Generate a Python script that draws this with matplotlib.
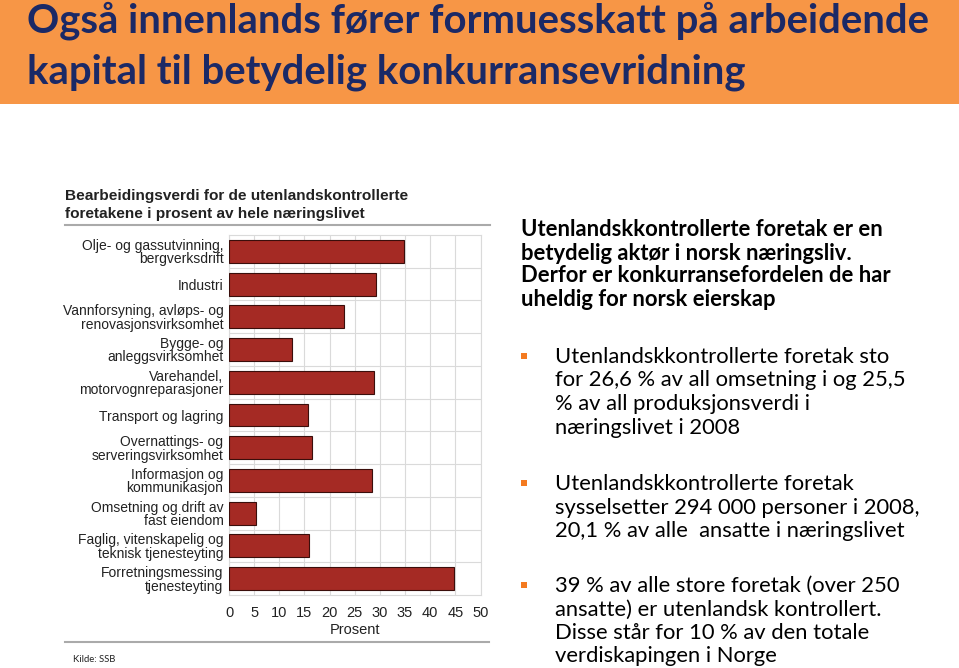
import matplotlib
matplotlib.use("Agg")
import matplotlib.pyplot as plt
from matplotlib.lines import Line2D
from matplotlib.patches import Rectangle

W, H = 959, 668

categories = [
    "Olje- og gassutvinning,\nbergverksdrift",
    "Industri",
    "Vannforsyning, avløps- og\nrenovasjonsvirksomhet",
    "Bygge- og\nanleggsvirksomhet",
    "Varehandel,\nmotorvognreparasjoner",
    "Transport og lagring",
    "Overnattings- og\nserveringsvirksomhet",
    "Informasjon og\nkommunikasjon",
    "Omsetning og drift av\nfast eiendom",
    "Faglig, vitenskapelig og\nteknisk tjenesteyting",
    "Forretningsmessing\ntjenesteyting",
]
values = [34.8, 29.2, 22.8, 12.5, 28.9, 15.8, 16.6, 28.5, 5.4, 16.0, 44.8]
xticks = [0, 5, 10, 15, 20, 25, 30, 35, 40, 45, 50]

title_lines = ["Også innenlands fører formuesskatt på arbeidende",
               "kapital til betydelig konkurransevridning"]
chart_title = ["Bearbeidingsverdi for de utenlandskontrollerte",
               "foretakene i prosent av hele næringslivet"]
heading = ["Utenlandskkontrollerte foretak er en",
           "betydelig aktør i norsk næringsliv.",
           "Derfor er konkurransefordelen de har",
           "uheldig for norsk eierskap"]
bullets = [
    ["Utenlandskkontrollerte foretak sto",
     "for 26,6 % av all omsetning i og 25,5",
     "% av all produksjonsverdi i",
     "næringslivet i 2008"],
    ["Utenlandskkontrollerte foretak",
     "sysselsetter 294 000 personer i 2008,",
     "20,1 % av alle  ansatte i næringslivet"],
    ["39 % av alle store foretak (over 250",
     "ansatte) er utenlandsk kontrollert.",
     "Disse står for 10 % av den totale",
     "verdiskapingen i Norge"],
]
bullet_tops = [357, 484, 586]


def fx(px):
    return px / W


def fy(py):
    return 1 - py / H


fig = plt.figure(figsize=(W / 100, H / 100), dpi=100)
fig.patch.set_facecolor("white")

# orange header
fig.patches.append(Rectangle((0, fy(104)), 1, 104 / H, transform=fig.transFigure,
                             facecolor="#F79646", edgecolor="none", zorder=0))
for i, line in enumerate(title_lines):
    fig.text(fx(27), fy(21 + i * 51), line, family="Lato", weight="bold",
             fontsize=28.8, color="#1B2966", va="center", ha="left")

# chart
ax = fig.add_axes([fx(229), fy(595), fx(480.5 - 229), (595 - 235) / H])
y = range(len(categories))
ax.barh(y, values, height=0.7, color="#A52A24", edgecolor="#3A0E0B",
        linewidth=0.8, zorder=3)
ax.set_xlim(0, 50)
ax.set_ylim(len(categories) - 0.5, -0.5)
ax.set_xticks(xticks)
ax.set_yticks(list(y))
ax.set_yticklabels(categories, family="Liberation Sans", fontsize=10,
                   linespacing=0.95, color="#222222")
ax.set_xticklabels([str(t) for t in xticks], family="Liberation Sans",
                   fontsize=10.5, color="#222222")
ax.set_yticks([i + 0.5 for i in range(len(categories) - 1)], minor=True)
ax.tick_params(axis="both", which="both", length=0)
ax.tick_params(axis="y", pad=4)
ax.tick_params(axis="x", pad=8)
ax.grid(True, axis="x", color="#DADADA", linewidth=0.8, zorder=0)
ax.grid(True, axis="y", which="minor", color="#DADADA", linewidth=0.8, zorder=0)
for s in ax.spines.values():
    s.set_color("#DADADA")
    s.set_linewidth(0.8)
ax.set_xlabel("Prosent", family="Liberation Sans", fontsize=10.5,
              color="#222222", labelpad=2)

for i, line in enumerate(chart_title):
    fig.text(fx(65), fy(196 + i * 18), line, family="Liberation Sans",
             weight="bold", fontsize=11.1, color="#222222", va="center")
fig.add_artist(Line2D([fx(65), fx(490)], [fy(225), fy(225)], color="#AAAAAA",
                      linewidth=1.5, transform=fig.transFigure))
fig.add_artist(Line2D([fx(65), fx(489)], [fy(642), fy(642)], color="#AAAAAA",
                      linewidth=1.5, transform=fig.transFigure))
fig.text(fx(73), fy(659), "Kilde: SSB", family="Lato", fontsize=6.8,
         color="#222222", va="center")

# right-hand text
for i, line in enumerate(heading):
    fig.text(fx(521), fy(230 + i * 23), line, family="Lato", weight="bold",
             fontsize=15.8, color="black", va="center")
for top, lines in zip(bullet_tops, bullets):
    fig.patches.append(Rectangle((fx(521), fy(top + 2)), 6 / W, 6 / H,
                                 transform=fig.transFigure, facecolor="#F47A20",
                                 edgecolor="none"))
    for i, line in enumerate(lines):
        fig.text(fx(555), fy(top + i * 23.5), line, family="Lato",
                 fontsize=15.8, color="black", va="center")

fig.savefig("out.png", dpi=100)
